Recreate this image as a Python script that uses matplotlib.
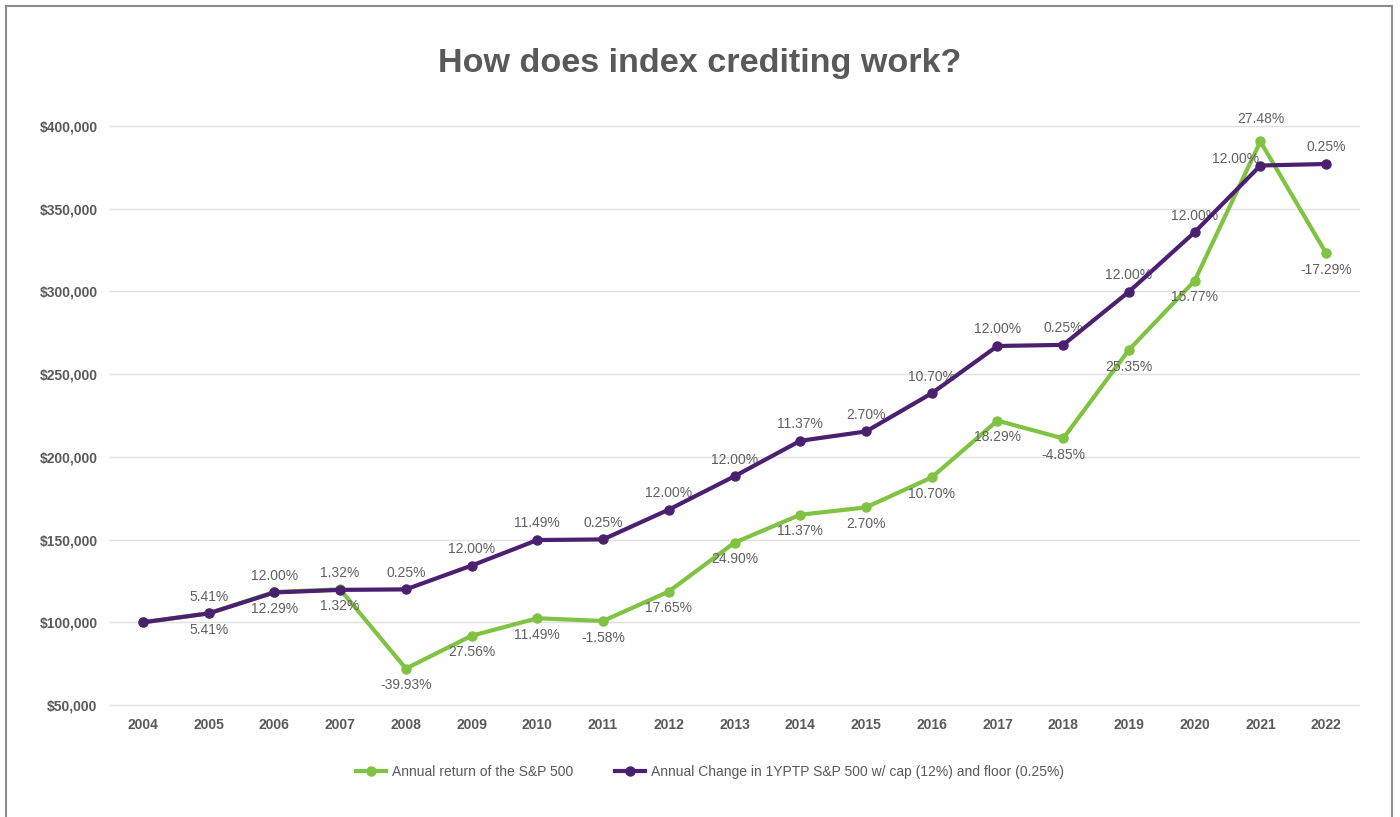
import matplotlib.pyplot as plt
from matplotlib.patches import Rectangle
from matplotlib.ticker import FuncFormatter

plt.rcParams['font.family'] = ['Liberation Sans', 'DejaVu Sans']

years = [str(y) for y in range(2004, 2023)]

# account values (start $100,000)
sp500 = [100000, 105410, 118365, 119928, 72040, 91894, 102453, 100834, 118631,
         148170, 165017, 169472, 187606, 221919, 211156, 264684, 306425, 390631, 323091]
capped = [100000, 105410, 118060, 119618, 119917, 134307, 149739, 150114, 168128,
          188303, 209713, 215375, 238420, 267030, 267698, 299822, 335801, 376097, 377037]

sp_labels = ['', '5.41%', '12.29%', '1.32%', '-39.93%', '27.56%', '11.49%', '-1.58%',
             '17.65%', '24.90%', '11.37%', '2.70%', '10.70%', '18.29%', '-4.85%',
             '25.35%', '15.77%', '27.48%', '-17.29%']
cap_labels = ['', '5.41%', '12.00%', '1.32%', '0.25%', '12.00%', '11.49%', '0.25%',
              '12.00%', '12.00%', '11.37%', '2.70%', '10.70%', '12.00%', '0.25%',
              '12.00%', '12.00%', '12.00%', '0.25%']

green = '#80c242'
purple = '#4b2070'
gray = '#595959'

fig = plt.figure(figsize=(14, 8.17), dpi=100)
ax = fig.add_axes([0.0786, 0.137, 0.8921, 0.7088])

x = list(range(len(years)))
ax.plot(x, sp500, color=green, lw=3, marker='o', ms=6.5, zorder=3,
        label='Annual return of the S&P 500')
ax.plot(x, capped, color=purple, lw=3, marker='o', ms=6.5, zorder=4,
        label='Annual Change in 1YPTP S&P 500 w/ cap (12%) and floor (0.25%)')

lab_kw = dict(textcoords='offset points', fontsize=10, color='#606060',
              ha='center', va='center', annotation_clip=False)
for i in x:
    if sp_labels[i]:
        dy = 16 if i == 17 else -12
        ax.annotate(sp_labels[i], (i, sp500[i]), xytext=(0, dy), **lab_kw)
    if cap_labels[i]:
        if i == 17:
            ax.annotate(cap_labels[i], (i, capped[i]), xytext=(-18, 5), **lab_kw)
        else:
            ax.annotate(cap_labels[i], (i, capped[i]), xytext=(0, 12), **lab_kw)

ax.set_xlim(-0.5, 18.5)
ax.set_ylim(50000, 400000)
ax.set_yticks(range(50000, 400001, 50000))
ax.yaxis.set_major_formatter(FuncFormatter(lambda v, p: '${:,.0f}'.format(v)))
ax.set_xticks(x)
ax.set_xticklabels(years)
ax.grid(axis='y', color='#e0e0e0', lw=1, clip_on=False)
ax.set_axisbelow(True)
for s in ax.spines.values():
    s.set_visible(False)
ax.tick_params(length=0, labelsize=10, labelcolor=gray)
ax.tick_params(axis='y', pad=9)
ax.tick_params(axis='x', pad=9)
for t in ax.get_xticklabels() + ax.get_yticklabels():
    t.set_fontweight('bold')

fig.text(0.5, 0.922, 'How does index crediting work?', ha='center', va='center',
         fontsize=24.6, fontweight='bold', color=gray)

fig.legend(loc='center', bbox_to_anchor=(0.507, 0.055), ncol=2, frameon=False,
           fontsize=10, labelcolor=gray, handlelength=2.2, columnspacing=3,
           handletextpad=0.4)

fig.patches.append(Rectangle((6 / 1400, -0.02), 1386 / 1400, 1.02 - 6 / 817,
                             transform=fig.transFigure, fill=False,
                             edgecolor='#8c8c8c', lw=1.5))

fig.savefig('out.png', dpi=100)
